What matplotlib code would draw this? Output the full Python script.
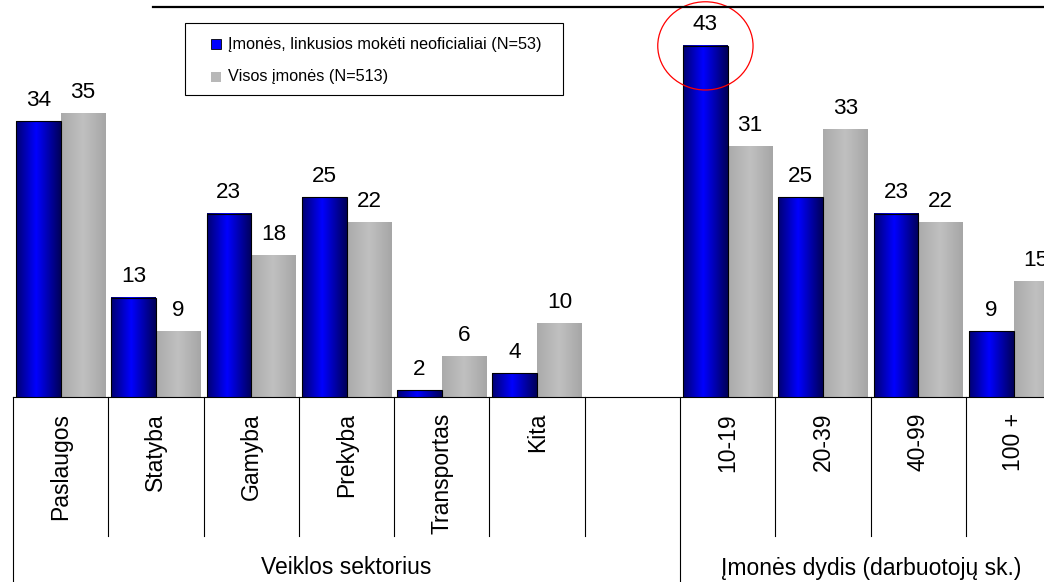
import matplotlib

matplotlib.use("Agg")

import matplotlib.pyplot as plt
import numpy as np
from matplotlib.colors import LinearSegmentedColormap
from matplotlib.patches import Ellipse, Rectangle

plt.rcParams["font.family"] = ["Liberation Sans", "DejaVu Sans"]

# data (%)
sector_labels = ["Paslaugos", "Statyba", "Gamyba", "Prekyba", "Transportas", "Kita"]
size_labels = ["10-19", "20-39", "40-99", "100 +"]

informal_sector = [34, 13, 23, 25, 2, 4]
all_sector = [35, 9, 18, 22, 6, 10]

informal_size = [43, 25, 23, 9]
all_size = [31, 33, 22, 15]

series_names = [
    "Įmonės, linkusios mokėti neoficialiai (N=53)",
    "Visos įmonės (N=513)",
]
group_names = ["Veiklos sektorius", "Įmonės dydis (darbuotojų sk.)"]

BLUE_MAP = LinearSegmentedColormap.from_list(
    "blue_bar", [(0.0, "#000070"), (0.45, "#0000ff"), (1.0, "#000058")]
)
GRAY_MAP = LinearSegmentedColormap.from_list(
    "gray_bar", [(0.0, "#aaaaaa"), (0.5, "#c0c0c0"), (1.0, "#a6a6a6")]
)


def gradient_fill(ax, bars, cmap):
    """Paint a left-to-right gradient inside each bar."""
    grad = np.linspace(0.0, 1.0, 256).reshape(1, -1)
    for bar in bars:
        x0, y0 = bar.get_x(), bar.get_y()
        w, h = bar.get_width(), bar.get_height()
        ax.imshow(
            grad,
            extent=[x0, x0 + w, y0, y0 + h],
            aspect="auto",
            cmap=cmap,
            interpolation="bilinear",
            zorder=2,
        )


fig = plt.figure(figsize=(10.44, 5.82), dpi=100)
ax = fig.add_axes([13 / 1044, 185 / 582, 11 * 95.3 / 1044, 397 / 582])

n_sector = len(sector_labels)
sector_pos = np.arange(n_sector)
size_pos = np.arange(len(size_labels)) + n_sector + 1
positions = np.concatenate([sector_pos, size_pos])

informal = informal_sector + informal_size
everyone = all_sector + all_size

width = 0.469

blue_bars = ax.bar(
    positions - width / 2, informal, width,
    facecolor="none", edgecolor="black", linewidth=0.8, zorder=3,
)
gray_bars = ax.bar(
    positions + width / 2, everyone, width,
    facecolor="none", edgecolor="none", zorder=3,
)
gradient_fill(ax, blue_bars, BLUE_MAP)
gradient_fill(ax, gray_bars, GRAY_MAP)

ax.bar_label(blue_bars, padding=7.5, fontsize=16.2)
ax.bar_label(gray_bars, padding=7.5, fontsize=16.2)

n_cat = n_sector + 1 + len(size_labels)
ax.set_xlim(-0.5, n_cat - 0.5)
ax.set_ylim(1.2, 1.2 + 397 / 8.4)

ax.set_xticks(np.arange(n_cat))
ax.set_xticklabels(sector_labels + [""] + size_labels, rotation=90, va="top", fontsize=16.5)
ax.tick_params(axis="x", length=0, pad=11.5)
ax.set_yticks([])

for side in ["left", "top", "right"]:
    ax.spines[side].set_visible(False)
ax.spines["bottom"].set_linewidth(0.8)

# category dividers below the axis
outer = {-0.5, n_sector + 0.5, n_cat - 0.5}
for edge in np.arange(n_cat + 1) - 0.5:
    bottom = -0.47 if edge in outer else -139 / 397
    ax.plot([edge, edge], [0, bottom], color="black", linewidth=0.8,
            transform=ax.get_xaxis_transform(), clip_on=False)

ax.text((n_sector) / 2, -171 / 397, group_names[0], ha="center", va="center",
        fontsize=16.5, transform=ax.get_xaxis_transform())
ax.text(size_pos.mean(), -171 / 397, group_names[1], ha="center", va="center",
        fontsize=16.5, transform=ax.get_xaxis_transform())

# red circle around the largest value
peak = int(np.argmax(informal))
ax.add_patch(Ellipse((positions[peak] - width / 2, informal[peak]), 1.0, 10.5,
                     facecolor="none", edgecolor="red", linewidth=0.9, zorder=4))

# title rule (title itself lies outside the crop)
fig.add_artist(plt.Line2D([153 / 1044, 1.0], [1 - 7 / 582, 1 - 7 / 582],
                          color="black", linewidth=1.6))

# legend drawn as a plain box
fig.add_artist(Rectangle((185 / 1044, 1 - 95 / 582), 378 / 1044, 72 / 582,
                         facecolor="white", edgecolor="black", linewidth=0.8,
                         transform=fig.transFigure))
legend_colors = [("#0000ff", "black"), ("#b8b8b8", "none")]
for i, (name, (face, edge)) in enumerate(zip(series_names, legend_colors)):
    y_px = 44 + i * 33
    fig.add_artist(Rectangle((211 / 1044, 1 - (y_px + 5) / 582), 10 / 1044, 10 / 582,
                             facecolor=face, edgecolor=edge, linewidth=0.6,
                             transform=fig.transFigure))
    fig.text(228 / 1044, 1 - y_px / 582, name, fontsize=11.7, va="center", ha="left")

fig.savefig("out.png", dpi=100)
plt.close(fig)
